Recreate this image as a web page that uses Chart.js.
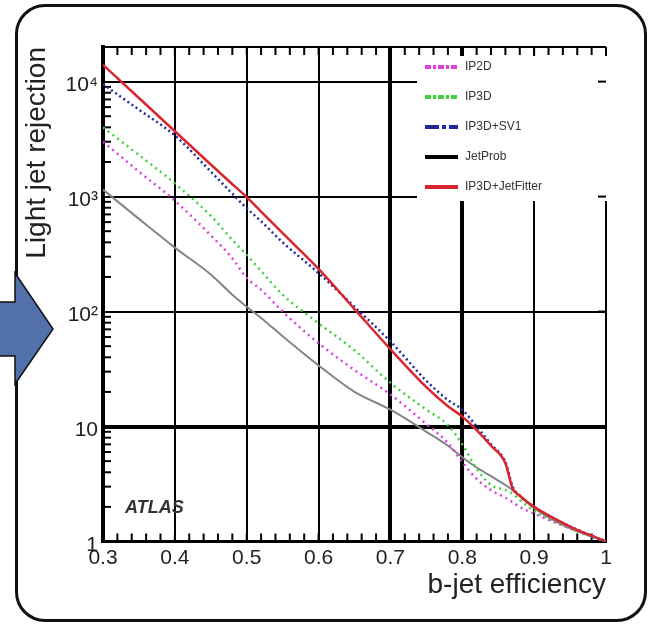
<!DOCTYPE html>
<html>
<head>
<meta charset="utf-8">
<script src="https://cdn.jsdelivr.net/npm/chart.js@4"></script>
<style>
  body { margin: 0; background: #fff; }
  #wrap { position: relative; width: 648px; height: 625px; overflow: hidden; }
  #box { position: absolute; left: 15px; top: 4px; width: 626px; height: 612px;
         border: 3px solid #111; border-radius: 30px; }
  #arrow { position: absolute; left: 0; top: 0; }
  canvas { position: absolute; left: 0; top: 0; }
</style>
</head>
<body>
<div id="wrap">
  <div id="box"></div>
  <svg id="arrow" width="648" height="625">
    <polygon points="-2,302 15,302 15,273 53,329 15,384 15,356 -2,356"
             fill="#5270a9" stroke="#111" stroke-width="1.5"/>
  </svg>
  <canvas id="chart" width="648" height="625"></canvas>
</div>
<script>
// b-jet efficiency (x)
const efficiency = [0.30, 0.35, 0.40, 0.45, 0.48, 0.50, 0.52, 0.55, 0.60, 0.65, 0.70, 0.75, 0.78, 0.80, 0.82, 0.84, 0.86, 0.87, 0.88, 0.90, 0.95, 1.00];

// light jet rejection per tagger
const ip2d      = [3000, 1650, 920, 460, 290, 196, 155, 100, 53, 31, 19, 10.5, 7.2, 4.9, 3.5, 2.8, 2.4, 2.2, 2.0, 1.75, 1.3, 1.0];
const ip3d      = [4000, 2300, 1300, 680, 420, 310, 225, 140, 79, 46, 24, 14, 10.3, 7.0, 4.3, 3.1, 2.8, 2.6, 2.3, 1.85, 1.3, 1.0];
const ip3dSv1   = [9500, 5700, 3400, 1650, 1060, 790, 610, 400, 216, 110, 55, 25, 17, 14, 10, 7.0, 4.9, 3.0, 2.5, 2.0, 1.35, 1.0];
const jetProb   = [1150, 640, 360, 210, 140, 110, 88, 61, 34, 20, 14, 9, 6.8, 5.4, 4.4, 3.7, 3.1, 2.8, 2.5, 1.95, 1.3, 1.0];
const jetFitter = [14000, 7200, 3700, 1900, 1280, 990, 740, 480, 235, 105, 47, 22, 15, 12.2, 9.3, 6.8, 4.8, 2.9, 2.5, 2.0, 1.35, 1.0];

const yTicks = [1, 10, 100, 1000, 10000];
const yTickLabels = ['1', '10', '10²', '10³', '10⁴'];
const xMin = 0.3, xMax = 1, yMin = 1, yMax = 20000;

function pts(values) {
    return efficiency.map((e, i) => ({ x: e, y: values[i] }));
}

// rahmen, kleine ticks und legende im plot
const framePlugin = {
    id: 'frame',
    beforeDatasetsDraw(chart) {
        const { ctx, chartArea: a, scales: { x, y } } = chart;
        ctx.save();
        ctx.strokeStyle = '#000';

        // oberer rahmen
        ctx.lineWidth = 2;
        ctx.beginPath();
        ctx.moveTo(a.left, a.top);
        ctx.lineTo(a.right, a.top);
        ctx.stroke();

        // kleine ticks x, oben und unten
        for (let i = 1; i < 35; i++) {
            const px = x.getPixelForValue(xMin + i * 0.02);
            ctx.beginPath();
            ctx.moveTo(px, a.bottom);
            ctx.lineTo(px, a.bottom - 8);
            ctx.moveTo(px, a.top);
            ctx.lineTo(px, a.top + 8);
            ctx.stroke();
        }

        // kleine ticks y links
        for (let d = 1; d <= 10000; d *= 10) {
            for (let m = 2; m <= 9; m++) {
                const v = d * m;
                if (v > yMax) break;
                const py = y.getPixelForValue(v);
                ctx.beginPath();
                ctx.moveTo(a.left, py);
                ctx.lineTo(a.left + 8, py);
                ctx.stroke();
            }
        }

        // weisse flaeche der legende
        const lx = 417, ly = 56;
        ctx.fillStyle = '#fff';
        ctx.fillRect(lx, ly, a.right + 3 - lx, 201 - ly);

        // rechte ticks bei dekaden
        yTicks.forEach(v => {
            const py = y.getPixelForValue(v);
            ctx.beginPath();
            ctx.moveTo(a.right, py);
            ctx.lineTo(a.right - 8, py);
            ctx.stroke();
        });

        // legende
        ctx.font = '12px "Liberation Sans", Arial, sans-serif';
        ctx.textBaseline = 'middle';
        chart.data.datasets.forEach((ds, i) => {
            const ry = 67 + i * 30;
            ctx.strokeStyle = ds.legendColor || ds.borderColor;
            ctx.lineWidth = 4;
            ctx.setLineDash(ds.legendDash || []);
            ctx.beginPath();
            ctx.moveTo(425, ry);
            ctx.lineTo(458, ry);
            ctx.stroke();
            ctx.setLineDash([]);
            ctx.fillStyle = '#333';
            ctx.fillText(ds.label, 465, ry);
        });

        // ATLAS
        ctx.font = 'italic bold 18px "Liberation Sans", Arial, sans-serif';
        ctx.fillStyle = '#333';
        ctx.fillText('ATLAS', 125, 508);
        ctx.restore();
    }
};

new Chart(document.getElementById('chart'), {
    type: 'line',
    data: {
        datasets: [
            {
                label: 'IP2D',
                data: pts(ip2d),
                borderColor: '#dd40dd',
                borderWidth: 2.5,
                borderDash: [2, 4],
                legendDash: [6, 2, 3, 2],
                order: 1
            },
            {
                label: 'IP3D',
                data: pts(ip3d),
                borderColor: '#3fd03f',
                borderWidth: 2.5,
                borderDash: [2, 4],
                legendDash: [6, 2, 3, 2],
                order: 1
            },
            {
                label: 'IP3D+SV1',
                data: pts(ip3dSv1),
                borderColor: '#1f2a9e',
                borderWidth: 2.5,
                borderDash: [2, 3],
                legendDash: [14, 3, 4, 3],
                order: 1
            },
            {
                label: 'JetProb',
                data: pts(jetProb),
                borderColor: '#858585',
                legendColor: '#000',
                borderWidth: 2,
                order: 1
            },
            {
                label: 'IP3D+JetFitter',
                data: pts(jetFitter),
                borderColor: '#d8262e',
                borderWidth: 2.5,
                order: 0
            }
        ]
    },
    options: {
        responsive: false,
        animation: false,
        layout: { padding: { left: 0, top: 47, right: 42, bottom: 23 } },
        elements: {
            point: { radius: 0 },
            line: { cubicInterpolationMode: 'monotone' }
        },
        plugins: {
            legend: { display: false },
            tooltip: { enabled: false }
        },
        scales: {
            x: {
                type: 'linear',
                min: xMin,
                max: xMax,
                afterFit: s => { s.height = 60.5; },
                border: { color: '#000', width: 3 },
                grid: {
                    color: '#000',
                    drawTicks: false,
                    lineWidth: c => {
                        const v = Math.round(c.tick.value * 10) / 10;
                        return (v === 0.7 || v === 0.8) ? 4 : 2;
                    }
                },
                ticks: {
                    stepSize: 0.1,
                    padding: 4,
                    color: '#222',
                    font: { family: '"Liberation Sans", Arial, sans-serif', size: 21 },
                    callback: v => String(Math.round(v * 10) / 10)
                },
                title: {
                    display: true,
                    text: 'b-jet efficiency',
                    align: 'end',
                    color: '#222',
                    padding: 0,
                    font: { family: '"Liberation Sans", Arial, sans-serif', size: 28 }
                }
            },
            y: {
                type: 'logarithmic',
                min: yMin,
                max: yMax,
                afterFit: s => { s.width = 103; },
                afterBuildTicks: s => { s.ticks = yTicks.map(v => ({ value: v })); },
                border: { color: '#000', width: 4 },
                grid: {
                    color: '#000',
                    drawTicks: false,
                    lineWidth: c => (c.tick.value === 10 ? 4 : 2)
                },
                ticks: {
                    padding: 5,
                    labelOffset: 4,
                    color: '#222',
                    font: { family: '"Liberation Sans", Arial, sans-serif', size: 21 },
                    callback: v => yTickLabels[yTicks.indexOf(v)]
                },
                title: {
                    display: true,
                    text: 'Light jet rejection',
                    align: 'end',
                    color: '#222',
                    padding: { top: 20, bottom: 0 },
                    font: { family: '"Liberation Sans", Arial, sans-serif', size: 28 }
                }
            }
        }
    },
    plugins: [framePlugin]
});
</script>
</body>
</html>
